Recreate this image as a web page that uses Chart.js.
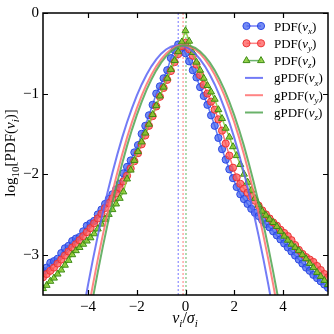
<!DOCTYPE html>
<html>
<head>
<meta charset="utf-8">
<script src="https://cdn.jsdelivr.net/npm/chart.js@4.4.1/dist/chart.umd.min.js"></script>
<style>
  html, body { margin: 0; padding: 0; background: #fff; }
  canvas { display: block; }
</style>
</head>
<body>
<canvas id="pdfChart" width="334" height="334"></canvas>
<script>
// velocity bins (v_i / sigma_i)
const pdfV = [-5.85,-5.70,-5.55,-5.40,-5.25,-5.10,-4.95,-4.80,-4.65,-4.50,-4.35,-4.20,-4.05,-3.90,-3.75,-3.60,-3.45,-3.30,-3.15,-3.00,
  -2.85,-2.70,-2.55,-2.40,-2.25,-2.10,-1.95,-1.80,-1.65,-1.50,-1.35,-1.20,-1.05,-0.90,-0.75,-0.60,-0.45,-0.30,-0.15,0.00,
  0.15,0.30,0.45,0.60,0.75,0.90,1.05,1.20,1.35,1.50,1.65,1.80,1.95,2.10,2.25,2.40,2.55,2.70,2.85,3.00,
  3.15,3.30,3.45,3.60,3.75,3.90,4.05,4.20,4.35,4.50,4.65,4.80,4.95,5.10,5.25,5.40,5.55,5.70,5.85];

// log10 PDF
const pdfVx = [-3.20,-3.16,-3.10,-3.08,-3.05,-2.98,-2.92,-2.89,-2.83,-2.80,-2.78,-2.71,-2.64,-2.61,-2.58,-2.50,-2.44,-2.37,-2.31,-2.25,
  -2.19,-2.12,-1.99,-1.91,-1.83,-1.73,-1.64,-1.50,-1.40,-1.27,-1.14,-1.00,-0.91,-0.81,-0.71,-0.56,-0.46,-0.39,-0.43,-0.50,
  -0.60,-0.71,-0.80,-0.92,-1.03,-1.14,-1.27,-1.40,-1.55,-1.69,-1.82,-1.94,-2.05,-2.16,-2.25,-2.31,-2.37,-2.43,-2.48,-2.52,
  -2.57,-2.62,-2.66,-2.71,-2.76,-2.81,-2.86,-2.91,-2.96,-3.01,-3.06,-3.11,-3.16,-3.20,-3.25,-3.29,-3.33,-3.37,-3.41];
const pdfVy = [-3.28,-3.24,-3.20,-3.16,-3.11,-3.06,-3.01,-2.96,-2.91,-2.87,-2.82,-2.77,-2.72,-2.67,-2.61,-2.55,-2.49,-2.42,-2.36,-2.30,
  -2.24,-2.17,-2.09,-2.02,-1.93,-1.84,-1.74,-1.63,-1.52,-1.40,-1.28,-1.16,-1.04,-0.93,-0.83,-0.72,-0.61,-0.51,-0.41,-0.37,
  -0.45,-0.53,-0.64,-0.77,-0.89,-1.00,-1.10,-1.20,-1.32,-1.46,-1.62,-1.77,-1.92,-2.04,-2.12,-2.18,-2.23,-2.28,-2.33,-2.39,
  -2.45,-2.50,-2.55,-2.60,-2.64,-2.69,-2.73,-2.77,-2.82,-2.88,-2.94,-2.99,-3.03,-3.06,-3.09,-3.14,-3.19,-3.24,-3.28];
const pdfVz = [-3.42,-3.38,-3.33,-3.29,-3.24,-3.19,-3.13,-3.07,-3.00,-2.95,-2.91,-2.87,-2.83,-2.79,-2.74,-2.68,-2.62,-2.56,-2.50,-2.44,
  -2.37,-2.30,-2.22,-2.06,-1.95,-1.83,-1.72,-1.60,-1.49,-1.38,-1.26,-1.15,-1.03,-0.92,-0.81,-0.70,-0.59,-0.48,-0.36,-0.22,
  -0.35,-0.49,-0.61,-0.71,-0.81,-0.90,-0.98,-1.07,-1.20,-1.31,-1.43,-1.54,-1.66,-1.77,-1.88,-2.00,-2.10,-2.20,-2.30,-2.38,
  -2.46,-2.51,-2.56,-2.60,-2.65,-2.71,-2.77,-2.82,-2.87,-2.91,-2.95,-3.00,-3.05,-3.11,-3.16,-3.22,-3.27,-3.32,-3.37];

// gaussian reference curves
const gVx = [-4.4,-4.2,-4.0,-3.8,-3.6,-3.4,-3.2,-3.0,-2.8,-2.6,-2.4,-2.2,-2.0,-1.8,-1.6,-1.4,-1.2,-1.0,-0.8,-0.6,-0.4,
  -0.2,0.0,0.2,0.4,0.6,0.8,1.0,1.2,1.4,1.6,1.8,2.0,2.2,2.4,2.6,2.8,3.0,3.2,3.4,3.6,3.8];
const gPdfVx = [-4.048,-3.701,-3.371,-3.058,-2.763,-2.485,-2.225,-1.982,-1.756,-1.547,-1.356,-1.183,-1.026,-0.887,-0.766,-0.662,-0.575,-0.505,-0.453,-0.419,-0.401,
  -0.401,-0.419,-0.453,-0.505,-0.575,-0.662,-0.766,-0.887,-1.026,-1.183,-1.356,-1.547,-1.756,-1.982,-2.225,-2.485,-2.763,-3.058,-3.371,-3.701,-4.048];
const gVy = [-4.2,-4.0,-3.8,-3.6,-3.4,-3.2,-3.0,-2.8,-2.6,-2.4,-2.2,-2.0,-1.8,-1.6,-1.4,-1.2,-1.0,-0.8,-0.6,-0.4,-0.2,
  0.0,0.2,0.4,0.6,0.8,1.0,1.2,1.4,1.6,1.8,2.0,2.2,2.4,2.6,2.8,3.0,3.2,3.4,3.6,3.8,4.0];
const gPdfVy = [-4.048,-3.701,-3.371,-3.058,-2.763,-2.485,-2.225,-1.982,-1.756,-1.547,-1.356,-1.183,-1.026,-0.887,-0.766,-0.662,-0.575,-0.505,-0.453,-0.419,-0.401,
  -0.401,-0.419,-0.453,-0.505,-0.575,-0.662,-0.766,-0.887,-1.026,-1.183,-1.356,-1.547,-1.756,-1.982,-2.225,-2.485,-2.763,-3.058,-3.371,-3.701,-4.048];
const gVz = [-4.0,-3.8,-3.6,-3.4,-3.2,-3.0,-2.8,-2.6,-2.4,-2.2,-2.0,-1.8,-1.6,-1.4,-1.2,-1.0,-0.8,-0.6,-0.4,-0.2,0.0,
  0.2,0.4,0.6,0.8,1.0,1.2,1.4,1.6,1.8,2.0,2.2,2.4,2.6,2.8,3.0,3.2,3.4,3.6,3.8,4.0];
const gPdfVz = [-3.873,-3.534,-3.213,-2.909,-2.622,-2.353,-2.101,-1.867,-1.649,-1.450,-1.267,-1.102,-0.955,-0.825,-0.712,-0.616,-0.538,-0.477,-0.434,-0.408,-0.399,
  -0.408,-0.434,-0.477,-0.538,-0.616,-0.712,-0.825,-0.955,-1.102,-1.267,-1.450,-1.649,-1.867,-2.102,-2.353,-2.622,-2.909,-3.213,-3.534,-3.873];

// mean positions (dotted lines)
const meanV = [-0.30, -0.10, 0.02];

const xTicks = [-4, -2, 0, 2, 4];
const yTicks = [-3, -2, -1, 0];
const xMin = -5.85, xMax = 5.85, yMin = -3.5, yMax = 0;

const serif = '"Liberation Serif", "DejaVu Serif", serif';

const blue = { fill: 'rgba(70,100,240,0.75)', edge: 'rgba(40,70,225,0.95)', line: 'rgba(70,100,240,0.85)', g: 'rgba(90,100,245,0.85)' };
const red = { fill: 'rgba(255,90,90,0.75)', edge: 'rgba(235,50,50,0.95)', line: 'rgba(255,90,90,0.85)', g: 'rgba(255,110,110,0.85)' };
const green = { fill: 'rgba(130,200,40,0.8)', edge: 'rgba(60,140,20,1)', line: 'rgba(140,205,60,0.9)', g: 'rgba(80,165,80,0.85)' };

function pts(xs, ys) {
  return xs.map((x, i) => ({ x: x, y: ys[i] }));
}

function pdfSet(label, ys, c, style, order) {
  return {
    label: label, data: pts(pdfV, ys), showLine: true,
    borderColor: c.line, borderWidth: 1.5,
    pointStyle: style, pointRadius: style == 'triangle' ? 4 : 3.6,
    pointBackgroundColor: c.fill, pointBorderColor: c.edge, pointBorderWidth: 1,
    clip: 0, order: order
  };
}

function gaussSet(label, xs, ys, c, order) {
  return {
    label: label, data: pts(xs, ys), showLine: true,
    borderColor: c.g, borderWidth: 2, pointRadius: 0, clip: 0, order: order
  };
}

function meanSet(v, color) {
  return {
    label: 'mean', data: [{ x: v, y: yMin }, { x: v, y: yMax }], showLine: true,
    borderColor: color, borderWidth: 1, borderDash: [2, 2], pointRadius: 0, clip: 0, order: 10
  };
}

// text with italics / subscripts
function drawRich(ctx, parts, x, y, size, align) {
  const fontFor = m => (m.indexOf('i') >= 0 ? 'italic ' : '') + (m.indexOf('s') >= 0 ? Math.round(size * 0.7) : size) + 'px ' + serif;
  let w = 0;
  parts.forEach(p => { ctx.font = fontFor(p[1]); w += ctx.measureText(p[0]).width; });
  let cx = align == 'center' ? x - w / 2 : x;
  ctx.textAlign = 'left';
  ctx.textBaseline = 'alphabetic';
  parts.forEach(p => {
    ctx.font = fontFor(p[1]);
    ctx.fillText(p[0], cx, y + (p[1].indexOf('s') >= 0 ? size * 0.25 : 0));
    cx += ctx.measureText(p[0]).width;
  });
}

const legendItems = [
  { parts: [['PDF(', ''], ['v', 'i'], ['x', 'si'], [')', '']], c: blue, marker: 'circle' },
  { parts: [['PDF(', ''], ['v', 'i'], ['y', 'si'], [')', '']], c: red, marker: 'circle' },
  { parts: [['PDF(', ''], ['v', 'i'], ['z', 'si'], [')', '']], c: green, marker: 'triangle' },
  { parts: [['gPDF(', ''], ['v', 'i'], ['x', 'si'], [')', '']], c: blue },
  { parts: [['gPDF(', ''], ['v', 'i'], ['y', 'si'], [')', '']], c: red },
  { parts: [['gPDF(', ''], ['v', 'i'], ['z', 'si'], [')', '']], c: green }
];

const decor = {
  id: 'decor',
  afterDraw(chart) {
    const ctx = chart.ctx, a = chart.chartArea;
    const xs = chart.scales.x, ys = chart.scales.y;
    ctx.save();
    // frame
    ctx.strokeStyle = '#000';
    ctx.lineWidth = 1.5;
    ctx.strokeRect(a.left, a.top, a.right - a.left, a.bottom - a.top);
    // inward ticks on all sides
    ctx.lineWidth = 1.2;
    ctx.beginPath();
    xTicks.forEach(v => {
      const px = Math.round(xs.getPixelForValue(v)) + 0.5;
      ctx.moveTo(px, a.bottom); ctx.lineTo(px, a.bottom - 5);
      ctx.moveTo(px, a.top); ctx.lineTo(px, a.top + 5);
    });
    yTicks.forEach(v => {
      const py = Math.round(ys.getPixelForValue(v)) + 0.5;
      ctx.moveTo(a.left, py); ctx.lineTo(a.left + 5, py);
      ctx.moveTo(a.right, py); ctx.lineTo(a.right - 5, py);
    });
    ctx.stroke();

    // legend
    ctx.fillStyle = '#000';
    legendItems.forEach((it, i) => {
      const ry = 26 + i * 17.3;
      ctx.strokeStyle = it.c.marker ? it.c.line : it.c.g;
      ctx.lineWidth = it.marker ? 1.5 : 2;
      ctx.beginPath();
      ctx.moveTo(it.marker ? 246.5 : 245, ry);
      ctx.lineTo(it.marker ? 261 : 263, ry);
      if (!it.marker) { ctx.strokeStyle = it.c.g; }
      ctx.stroke();
      if (it.marker) {
        const o = { pointStyle: it.marker, radius: it.marker == 'triangle' ? 4 : 3.6, rotation: 0, borderWidth: 1 };
        ctx.fillStyle = it.c.fill; ctx.strokeStyle = it.c.edge; ctx.lineWidth = 1;
        Chart.helpers.drawPoint(ctx, o, 246.5, ry);
        Chart.helpers.drawPoint(ctx, o, 261, ry);
      }
      ctx.fillStyle = '#000';
      drawRich(ctx, it.parts, 274, ry + 4.5, 13, 'left');
    });

    // axis titles
    drawRich(ctx, [['v', 'i'], ['i', 'si'], ['/', ''], ['σ', 'i'], ['i', 'si']], 185, 323, 16, 'center');
    ctx.translate(15, 153);
    ctx.rotate(-Math.PI / 2);
    drawRich(ctx, [['log', ''], ['10', 's'], ['[PDF(', ''], ['v', 'i'], ['i', 'si'], [')]', '']], 0, 0, 15, 'center');
    ctx.restore();
  }
};

function minusFmt(v) {
  return v < 0 ? '\u2212' + Math.abs(v) : String(v);
}

new Chart(document.getElementById('pdfChart'), {
  type: 'scatter',
  data: {
    datasets: [
      pdfSet('PDF(vx)', pdfVx, blue, 'circle', 6),
      pdfSet('PDF(vy)', pdfVy, red, 'circle', 5),
      pdfSet('PDF(vz)', pdfVz, green, 'triangle', 4),
      gaussSet('gPDF(vx)', gVx, gPdfVx, blue, 3),
      gaussSet('gPDF(vy)', gVy, gPdfVy, red, 2),
      gaussSet('gPDF(vz)', gVz, gPdfVz, green, 1),
      meanSet(meanV[0], 'rgba(80,80,255,0.8)'),
      meanSet(meanV[1], 'rgba(255,90,90,0.8)'),
      meanSet(meanV[2], 'rgba(60,160,60,0.8)')
    ]
  },
  options: {
    responsive: false,
    animation: false,
    devicePixelRatio: 1,
    layout: { padding: { top: 11, right: 6, left: 0, bottom: 0 } },
    plugins: { legend: { display: false }, tooltip: { enabled: false } },
    scales: {
      x: {
        type: 'linear', min: xMin, max: xMax,
        afterFit: s => { s.height = 39; },
        afterBuildTicks: s => { s.ticks = xTicks.map(v => ({ value: v })); },
        grid: { display: false, drawTicks: false },
        border: { display: false },
        ticks: { color: '#000', padding: 3, font: { family: serif, size: 15 }, callback: minusFmt, maxRotation: 0 }
      },
      y: {
        type: 'linear', min: yMin, max: yMax,
        afterFit: s => { s.width = 43; },
        afterBuildTicks: s => { s.ticks = yTicks.map(v => ({ value: v })); },
        grid: { display: false, drawTicks: false },
        border: { display: false },
        ticks: { color: '#000', padding: 4, font: { family: serif, size: 15 }, callback: minusFmt }
      }
    }
  },
  plugins: [decor]
});
</script>
</body>
</html>
